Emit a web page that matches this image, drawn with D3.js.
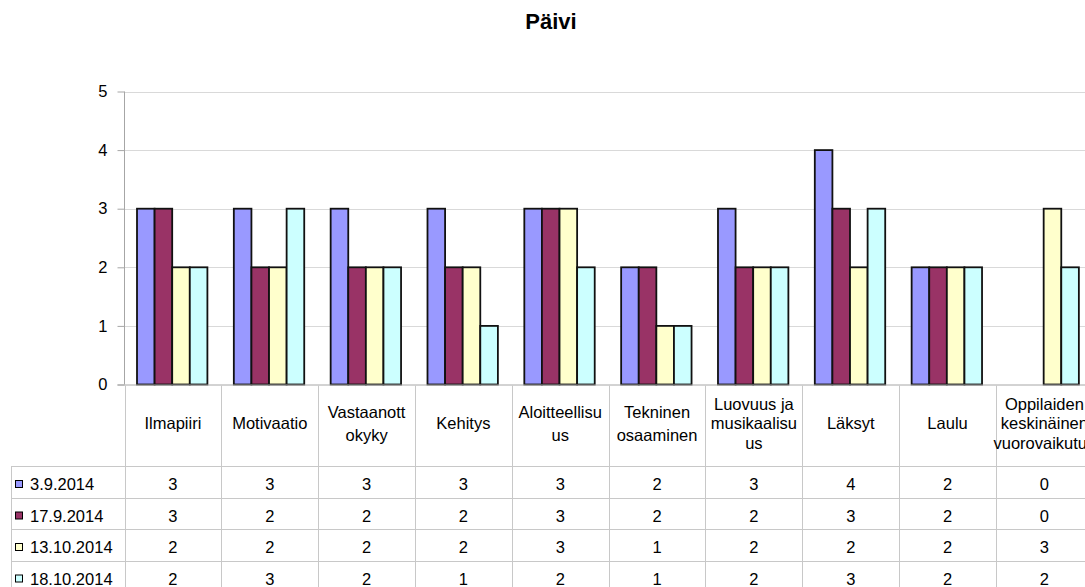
<!DOCTYPE html>
<html>
<head>
<meta charset="utf-8">
<script src="https://cdn.jsdelivr.net/npm/d3@7"></script>
<style>
  html, body { margin: 0; padding: 0; background: #fff; }
  svg { display: block; font-family: "Liberation Sans", Arial, sans-serif; }
</style>
</head>
<body>
<svg id="chart" width="1085" height="587"></svg>
<script>
// Category labels, with "\n" where the header cell wraps the text
const categories = [
  "Ilmapiiri",
  "Motivaatio",
  "Vastaanott\nokyky",
  "Kehitys",
  "Aloitteellisu\nus",
  "Tekninen\nosaaminen",
  "Luovuus ja\nmusikaalisu\nus",
  "Läksyt",
  "Laulu",
  "Oppilaiden\nkeskinäinen\nvuorovaikutus"
];
const seriesNames = ["3.9.2014", "17.9.2014", "13.10.2014", "18.10.2014"];
const values0309 = [3, 3, 3, 3, 3, 2, 3, 4, 2, 0];
const values1709 = [3, 2, 2, 2, 3, 2, 2, 3, 2, 0];
const values1310 = [2, 2, 2, 2, 3, 1, 2, 2, 2, 3];
const values1810 = [2, 3, 2, 1, 2, 1, 2, 3, 2, 2];
const seriesColors = ["#9999FF", "#993366", "#FFFFCC", "#CCFFFF"];
const yTicks = [0, 1, 2, 3, 4, 5];
const chartTitle = "Päivi";

const seriesValues = [values0309, values1709, values1310, values1810];

const svg = d3.select("#chart");
const FONT = 16.5;

// Plot geometry (the plot runs a little past the right edge of the page)
const plotLeft = 124.5, plotRight = 1092.8;
const plotTop = 91.5, plotBottom = 384.5;
const tableLeft = 11.5;
const headerBottom = 466;
const rowH = 31.5;
const pageBottom = 587;

const x = d3.scaleBand().domain(d3.range(categories.length)).range([plotLeft, plotRight]).paddingInner(0).paddingOuter(0);
const cw = x.bandwidth();
const barW = 17.6;
const x1 = d3.scaleBand().domain(d3.range(seriesNames.length)).range([12.5, 12.5 + barW * seriesNames.length]).padding(0);
const y = d3.scaleLinear().domain([0, 5]).range([plotBottom, plotTop]);

// Title
svg.append("text")
  .attr("x", 551).attr("y", 29)
  .attr("text-anchor", "middle")
  .attr("font-size", 22).attr("font-weight", "bold")
  .attr("fill", "#000")
  .text(chartTitle);

// Horizontal gridlines
svg.append("g").selectAll("line")
  .data(yTicks.filter(d => d > 0))
  .join("line")
  .attr("x1", plotLeft).attr("x2", plotRight)
  .attr("y1", d => Math.round(y(d)) + 0.5).attr("y2", d => Math.round(y(d)) + 0.5)
  .attr("stroke", "#d9d9d9").attr("stroke-width", 1);

// Y axis with outward ticks
const yAxis = d3.axisLeft(y).tickValues(yTicks).tickSize(7).tickPadding(10).tickFormat(d3.format("d"));
const gy = svg.append("g").attr("transform", `translate(${plotLeft},0)`).call(yAxis);
gy.select(".domain").remove();
gy.selectAll(".tick line").attr("stroke", "#a6a6a6");
gy.selectAll(".tick text").attr("font-size", FONT).attr("fill", "#000")
  .attr("font-family", "Liberation Sans, Arial, sans-serif");
svg.append("line")
  .attr("x1", plotLeft).attr("x2", plotLeft)
  .attr("y1", plotTop).attr("y2", plotBottom)
  .attr("stroke", "#a6a6a6");

// Bars
const bars = svg.append("g");
seriesValues.forEach((vals, si) => {
  bars.append("g").selectAll("rect")
    .data(vals.map((v, ci) => ({ v, ci })))
    .join("rect")
    .attr("x", d => x(d.ci) + x1(si))
    .attr("width", x1.bandwidth())
    .attr("y", d => y(d.v))
    .attr("height", d => y(0) - y(d.v))
    .attr("fill", seriesColors[si])
    .attr("stroke", "#111")
    .attr("stroke-width", 1.8);
});

// Category axis line
svg.append("line")
  .attr("x1", plotLeft - 7).attr("x2", plotRight)
  .attr("y1", plotBottom + 0.5).attr("y2", plotBottom + 0.5)
  .attr("stroke", "#a6a6a6");

// Data table grid
const grid = svg.append("g").attr("stroke", "#c8c8c8").attr("stroke-width", 1);
d3.range(categories.length + 1).forEach(i => {
  const xx = Math.round(plotLeft + i * cw) + 0.5;
  grid.append("line").attr("x1", xx).attr("x2", xx).attr("y1", plotBottom + 1).attr("y2", pageBottom);
});
grid.append("line").attr("x1", tableLeft).attr("x2", tableLeft).attr("y1", headerBottom).attr("y2", pageBottom);
d3.range(seriesNames.length + 1).forEach(r => {
  const yy = Math.round(headerBottom + r * rowH) + 0.5;
  grid.append("line").attr("x1", tableLeft).attr("x2", plotRight).attr("y1", yy).attr("y2", yy);
});

// Header cells: wrapped category names
const header = svg.append("g").attr("font-size", FONT).attr("fill", "#000").attr("text-anchor", "middle");
categories.forEach((c, ci) => {
  const lines = c.split("\n");
  const lh = lines.length > 2 ? 19.5 : 23;
  const cx = x(ci) + cw / 2;
  const base = 429.3 - (lines.length - 1) * lh / 2;
  const t = header.append("text").attr("x", cx).attr("y", base);
  lines.forEach((ln, li) => {
    t.append("tspan").attr("x", cx).attr("y", base + li * lh).text(ln);
  });
});

// Series rows: legend key, name and values
const rows = svg.append("g").attr("font-size", FONT).attr("fill", "#000");
seriesNames.forEach((name, si) => {
  const top = headerBottom + si * rowH;
  rows.append("rect")
    .attr("x", 15.5).attr("y", top + 14.5)
    .attr("width", 7).attr("height", 7)
    .attr("fill", seriesColors[si]).attr("stroke", "#000").attr("stroke-width", 1);
  rows.append("text").attr("x", 30).attr("y", top + 24).text(name);
  rows.append("g").selectAll("text")
    .data(seriesValues[si])
    .join("text")
    .attr("x", (d, ci) => x(ci) + cw / 2)
    .attr("y", top + 24)
    .attr("text-anchor", "middle")
    .text(d => d);
});
</script>
</body>
</html>
